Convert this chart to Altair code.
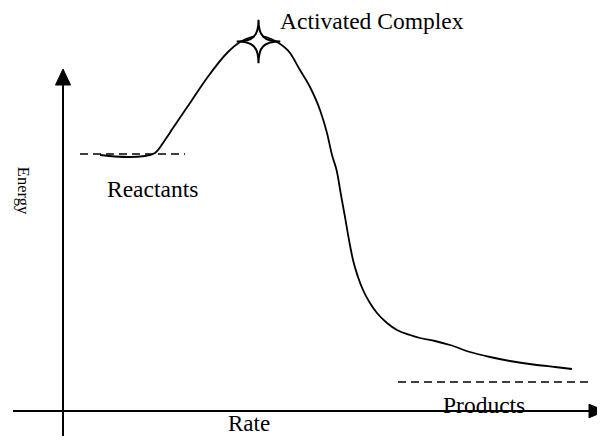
import altair as alt
import pandas as pd

# Reaction energy profile (rate position vs energy, arbitrary units)
curve_rate = [100, 115, 130, 145, 155, 165, 173, 190, 207, 227, 240, 250, 258, 266, 277,
              290, 300, 310, 320, 327, 332, 337, 341, 345, 349, 353, 358, 363, 370, 377,
              387, 397, 410, 420, 435, 450, 470, 490, 510, 537, 555, 572]
curve_energy = [293, 291.5, 291, 292, 295, 308, 320, 345, 370, 395, 406, 410.5, 412, 411, 406,
                395, 378, 361, 338, 315, 293, 276, 253, 231, 208, 188, 171, 158, 145, 135,
                125, 118, 113, 110, 107, 103, 96, 91, 87, 83, 81, 79]

# dashed reference levels
level_names = ["Reactants", "Products"]
level_start = [80, 398]
level_end = [185, 588]
level_energy = [294, 66]

# axes (drawn as arrows)
axis_x_start, axis_x_end, axis_x_energy = 13, 600, 37
axis_y_rate, axis_y_bottom, axis_y_top = 63, 0, 368

# labels
label_text = ["Activated Complex", "Reactants", "Products", "Rate"]
label_rate = [280, 107, 443, 228]
label_energy = [419, 251, 35, 17]
label_size = [23.5, 23.5, 23.5, 23]

# transition state marker
peak_rate, peak_energy = 258.5, 406.5

xs = alt.Scale(domain=[8, 597], nice=False, zero=False)
ys = alt.Scale(domain=[12, 440], nice=False, zero=False)

def X(f):
    return alt.X(f, type="quantitative", scale=xs, axis=None)

def Y(f):
    return alt.Y(f, type="quantitative", scale=ys, axis=None)

curve_df = pd.DataFrame({"rate": curve_rate, "energy": curve_energy})
curve = alt.Chart(curve_df).mark_line(
    color="black", strokeWidth=1.8, interpolate="monotone"
).encode(x=X("rate"), y=Y("energy"))

lvl_df = pd.DataFrame({"name": level_names, "x1": level_start, "x2": level_end, "e": level_energy})
levels = alt.Chart(lvl_df).mark_rule(
    color="black", strokeWidth=1.5, strokeDash=[8, 5]
).encode(x=X("x1"), x2="x2", y=Y("e"))

hax_df = pd.DataFrame({"x1": [axis_x_start], "x2": [axis_x_end], "e": [axis_x_energy]})
hax = alt.Chart(hax_df).mark_rule(color="black", strokeWidth=2).encode(
    x=X("x1"), x2="x2", y=Y("e"))

vax_df = pd.DataFrame({"r": [axis_y_rate], "e1": [axis_y_bottom], "e2": [axis_y_top]})
vax = alt.Chart(vax_df).mark_rule(color="black", strokeWidth=2).encode(
    x=X("r"), y=Y("e1"), y2="e2")

up_df = pd.DataFrame({"r": [axis_y_rate], "e": [371]})
up_arrow = alt.Chart(up_df).mark_point(
    shape="M0,-1 L0.94,1 L-0.94,1 Z", size=256, filled=True,
    fill="black", stroke="black", strokeWidth=1, opacity=1
).encode(x=X("r"), y=Y("e"))

right_df = pd.DataFrame({"r": [597], "e": [axis_x_energy]})
right_arrow = alt.Chart(right_df).mark_point(
    shape="M1,0 L-1,0.85 L-1,-0.85 Z", size=256, filled=True,
    fill="black", stroke="black", strokeWidth=1, opacity=1
).encode(x=X("r"), y=Y("e"))

star_df = pd.DataFrame({"r": [peak_rate], "e": [peak_energy]})
star = alt.Chart(star_df).mark_point(
    shape="M0,-1 C0,-0.25 0.25,0 1,0 C0.25,0 0,0.25 0,1 C0,0.25 -0.25,0 -1,0 C-0.25,0 0,-0.25 0,-1 Z",
    size=1900, filled=True, fill="white", stroke="black", strokeWidth=2, opacity=1
).encode(x=X("r"), y=Y("e"))

lab_df = pd.DataFrame({"t": label_text, "r": label_rate, "e": label_energy, "s": label_size})
labels = alt.Chart(lab_df).mark_text(
    align="left", baseline="alphabetic", font="Liberation Serif", color="black"
).encode(x=X("r"), y=Y("e"), text="t:N",
         size=alt.Size("s:Q", scale=None, legend=None))

en_df = pd.DataFrame({"t": ["Energy"], "r": [18], "e": [257.5]})
energy_label = alt.Chart(en_df).mark_text(
    align="center", baseline="alphabetic", angle=90, font="Liberation Serif",
    fontSize=16.5, color="black"
).encode(x=X("r"), y=Y("e"), text="t:N")

chart = alt.layer(
    curve, levels, hax, vax, up_arrow, right_arrow, star, labels, energy_label
).properties(
    width=589, height=428, padding=0, background="white",
    autosize=alt.AutoSizeParams(type="none")
).configure_view(stroke=None)

chart.save("out.html", embed_options={"renderer": "svg", "actions": False})
